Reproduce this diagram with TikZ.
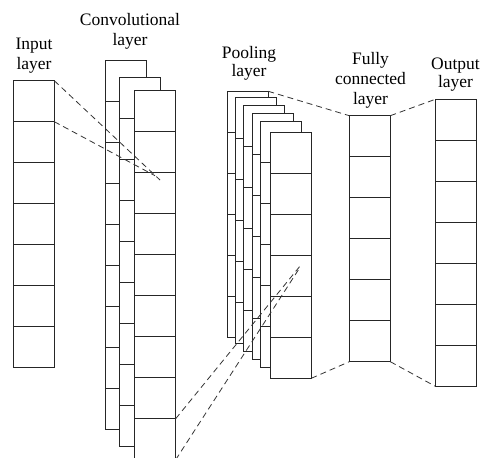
\documentclass[tikz,border=0pt]{standalone}
\usepackage{fontspec}
\setmainfont{Liberation Serif}
\usetikzlibrary{positioning}

\tikzset{
  cell/.style={draw=black!85,fill=white,line width=0.8pt,minimum width=41pt,inner sep=0pt,outer sep=0pt,anchor=north west},
  link/.style={draw=black!80,line width=0.8pt,dash pattern=on 6pt off 4pt},
  lbl/.style={align=center,anchor=south,inner sep=0pt,font=\fontsize{17.5}{20}\selectfont}
}

% column of #4 cells, top left corner at (#2,#3)
\newcommand{\layercol}[4]{%
  \node[cell,minimum height=#4*41pt] (#1) at (#2,#3) {};
  \foreach \k in {1,...,#4}{%
    \draw[black!85,line width=0.8pt] ([yshift=-\k*41pt]#1.north west) -- ([yshift=-\k*41pt]#1.north east) coordinate (#1-\k);}%
}

\begin{document}
\begin{tikzpicture}[x=1pt,y=-1pt]
    \useasboundingbox (0,0) rectangle (481,457);
    \layercol{inp}{13.3}{80.7}{7}
    \layercol{cv1}{105.7}{60.3}{9}
    \layercol{cv2}{119.3}{77.3}{9}
    \layercol{cv3}{134.7}{90.7}{9}
    \layercol{pl1}{227.3}{91.3}{6}
    \layercol{pl2}{235.7}{97.3}{6}
    \layercol{pl3}{243.7}{105.3}{6}
    \layercol{pl4}{252}{113.7}{6}
    \layercol{pl5}{260}{121.7}{6}
    \layercol{pl6}{270.3}{132.3}{6}
    \layercol{fc}{349.3}{115.7}{6}
    \layercol{out}{435.3}{99.3}{7}
    \coordinate (f1) at (160,180);   \coordinate (f2) at (155,175.7);
    \coordinate (p1) at (301.7,264); \coordinate (p2) at (298.3,270);
    \draw[link] (inp.north east) -- (f1);
    \draw[link] (inp-1) -- (f2);
    \draw[link] (cv3-8) -- (p1);
    \draw[link] (cv3-9) -- (p2);
    \draw[link] (pl1.north east) -- (fc.north west);
    \draw[link] (pl6.south east) -- (fc.south west);
    \draw[link] (fc.north east) -- (out.north west);
    \draw[link] (fc.south east) -- (out.south west);
    \node[lbl] (tin) at (34,73.8) {Input\\layer};
    \node[lbl] (tcv) at (130,49.8) {Convolutional\\layer};
    \node[lbl,font=\fontsize{17.5}{18.5}\selectfont] (tpl) at (249,80.5) {Pooling\\layer};
    \node[lbl] (tfc) at (370.5,108.1) {Fully\\connected\\layer};
    \node[lbl,font=\fontsize{17.5}{17.5}\selectfont] (tout) at (455.5,91.1) {Output\\layer};
  \end{tikzpicture}
\end{document}
